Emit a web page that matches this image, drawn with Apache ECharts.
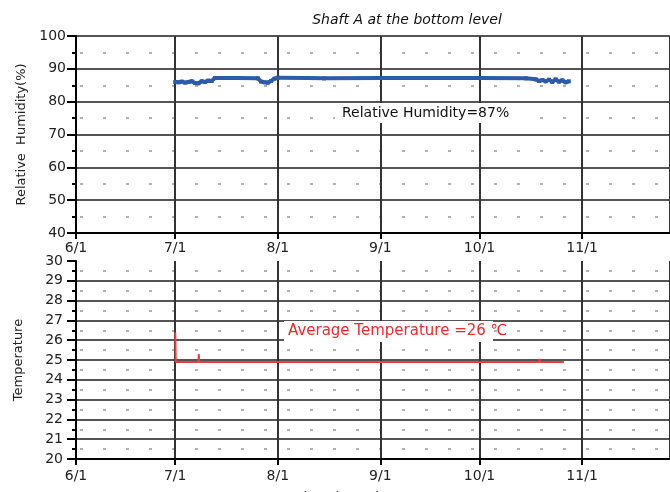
<!DOCTYPE html>
<html>
<head>
<meta charset="utf-8">
<script src="https://cdn.jsdelivr.net/npm/echarts@6/dist/echarts.min.js"></script>
<style>
html,body{margin:0;padding:0;background:#fff;}
#c{width:670px;height:492px;}
</style>
</head>
<body>
<div id="c"></div>
<script>
// ---- data ----
const title = 'Shaft A at the bottom level';
const rhName = 'Relative  Humidity(%)';
const tName = 'Temperature';
const xName = 'Time (2008)';
const rhNote = 'Relative Humidity=87%';
const tNote = 'Average Temperature =26 \u2103';

const rhDates = ['2008-07-01','2008-07-02','2008-07-03','2008-07-04','2008-07-05','2008-07-06','2008-07-07','2008-07-08','2008-07-09','2008-07-10','2008-07-11','2008-07-12','2008-07-13','2008-07-20','2008-07-26','2008-07-27','2008-07-28','2008-07-29','2008-07-30','2008-07-31','2008-08-01','2008-08-10','2008-08-15','2008-09-01','2008-09-15','2008-10-01','2008-10-15','2008-10-18','2008-10-19','2008-10-20','2008-10-21','2008-10-22','2008-10-23','2008-10-24','2008-10-25','2008-10-26','2008-10-27','2008-10-28'];
const rhValues = [86.0,85.9,86.1,85.8,86.0,86.2,85.7,85.6,86.2,86.0,86.4,86.3,87.2,87.2,87.1,86.1,85.9,85.8,86.3,87.0,87.3,87.2,87.1,87.2,87.2,87.2,87.1,86.8,86.3,86.6,86.2,86.7,86.0,86.8,86.1,86.5,85.9,86.2];

const tDates = ['2008-07-01 00:00','2008-07-01 04:00','2008-07-08 00:00','2008-07-08 03:00','2008-07-08 06:00','2008-10-19 00:00','2008-10-19 03:00','2008-10-19 06:00','2008-10-26 12:00'];
const tValues = [26.4,24.9,24.9,25.3,24.9,24.9,25.05,24.9,24.9];

const xMin = '2008-06-01 00:00';
const xMax = '2008-11-27 14:00';
const rhTicks = {min:40, max:100, interval:10};
const tTicks = {min:20, max:30, interval:1};

function parseD(s){
  const [d,t] = s.split(' ');
  const [y,m,dd] = d.split('-').map(Number);
  let hh=0, mm=0;
  if (t){ [hh,mm] = t.split(':').map(Number); }
  return new Date(y, m-1, dd, hh, mm).getTime();
}
const rhData = rhDates.map((d,i)=>[parseD(d), rhValues[i]]);
const tData = tDates.map((d,i)=>[parseD(d), tValues[i]]);

const FONT = 'DejaVu Sans';
const DAY = 86400000;

function xAxisCfg(gi, margin){
  return {
    type:'time', gridIndex:gi, min:parseD(xMin), max:parseD(xMax),
    minInterval:28*DAY, maxInterval:31*DAY, splitNumber:6,
    axisLine:{show:true, lineStyle:{color:'#000', width:2}},
    axisTick:{show:true, length:6, lineStyle:{color:'#000', width:2}},
    axisLabel:{show:true, margin:margin, color:'#222', fontFamily:FONT, fontSize:14,
      formatter:function(v){const d=new Date(v); return (d.getMonth()+1)+'/'+d.getDate();},
      showMinLabel:true, showMaxLabel:false, hideOverlap:false},
    splitLine:{show:true, lineStyle:{color:'#333', width:2}},
    minorTick:{show:false}, minorSplitLine:{show:false}
  };
}
function yAxisCfg(gi, t, name, nameGap, showMax, labelPad, margin){
  return {
    type:'value', gridIndex:gi, min:t.min, max:t.max, interval:t.interval,
    name:name, nameLocation:'middle', nameGap:nameGap,
    nameTextStyle:{color:'#222', fontFamily:FONT, fontSize:13},
    axisLine:{show:true, lineStyle:{color:'#000', width:2}},
    axisTick:{show:true, length:9, lineStyle:{color:'#000', width:2}},
    minorTick:{show:true, splitNumber:2, length:4, lineStyle:{color:'#000', width:2}},
    axisLabel:{margin:margin, color:'#222', fontFamily:FONT, fontSize:14, padding:[0,0,labelPad,0]},
    splitLine:{show:true, showMinLine:false, showMaxLine:showMax, lineStyle:{color:'#555', width:2}},
    minorSplitLine:{show:true, lineStyle:{color:'#999', width:1.5, type:[3,20], dashOffset:-4}}
  };
}

const chart = echarts.init(document.getElementById('c'), null, {renderer:'canvas'});
chart.setOption({
  backgroundColor:'#fff',
  animation:false,
  grid:[
    {left:76, top:36, height:197, right:0},
    {left:76, top:261, height:198, right:0}
  ],
  xAxis:[xAxisCfg(0, 8), xAxisCfg(1, 10)],
  yAxis:[yAxisCfg(0, rhTicks, rhName, 48, true, 10, 10), yAxisCfg(1, tTicks, tName, 51, false, 9, 13)],
  series:[
    {type:'line', xAxisIndex:0, yAxisIndex:0, data:rhData, showSymbol:true, symbol:'rect', symbolSize:4,
      itemStyle:{color:'#2E5BA8'}, lineStyle:{color:'#2E5BA8', width:4}, z:5},
    {type:'line', xAxisIndex:1, yAxisIndex:1, data:tData, showSymbol:false,
      lineStyle:{color:'#EE3B3B', width:2}, z:5}
  ],
  graphic:[
    {type:'text', style:{text:title, x:407, y:20, align:'center', verticalAlign:'middle', fill:'#111', font:'italic 14px "DejaVu Sans"'}},
    {type:'rect', shape:{x:335, y:103, width:190, height:20}, style:{fill:'#fff'}, z:10},
    {type:'text', style:{text:rhNote, x:342, y:113, align:'left', verticalAlign:'middle', fill:'#111', font:'14px "DejaVu Sans"'}, z:11},
    {type:'rect', shape:{x:284, y:321, width:209, height:21}, style:{fill:'#fff'}, z:10},
    {type:'text', style:{text:tNote, x:288, y:331, align:'left', verticalAlign:'middle', fill:'#EE2A2A', font:'15px "DejaVu Sans"'}, z:11},
    {type:'text', style:{text:xName, x:338, y:498, align:'center', verticalAlign:'middle', fill:'#222', font:'14px "DejaVu Sans"'}, z:11}
  ]
});
</script>
</body>
</html>
